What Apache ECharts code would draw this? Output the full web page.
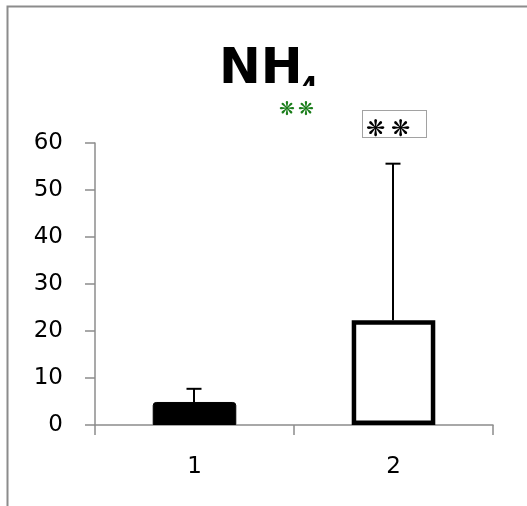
<!DOCTYPE html>
<html>
<head>
<meta charset="utf-8">
<script src="https://cdn.jsdelivr.net/npm/echarts@6/dist/echarts.min.js"></script>
<style>
html,body{margin:0;padding:0;background:#fff;}
#main{width:527px;height:506px;}
</style>
</head>
<body>
<div id="main"></div>
<script>
var categories = ['1', '2'];
var means = [4.9, 22.3];
var upperErrors = [7.7, 55.6];
var yTicks = [0, 10, 20, 30, 40, 50, 60];

var chart = echarts.init(document.getElementById('main'), null, {renderer: 'canvas'});
var labelFont = '"DejaVu Sans", sans-serif';
var starFont = '"DejaVu Sans", sans-serif';

var option = {
  animation: false,
  backgroundColor: '#fff',
  grid: {left: 95, right: 34, top: 143, bottom: 81},
  xAxis: {
    type: 'category',
    data: categories,
    axisLine: {lineStyle: {color: '#8c8c8c', width: 1.5}},
    axisTick: {show: true, length: 10, lineStyle: {color: '#8c8c8c', width: 1.5}},
    axisLabel: {color: '#000', fontSize: 23, fontFamily: labelFont, margin: 31}
  },
  yAxis: {
    type: 'value',
    min: yTicks[0],
    max: yTicks[yTicks.length - 1],
    interval: 10,
    axisLine: {show: true, lineStyle: {color: '#8c8c8c', width: 1.5}},
    axisTick: {show: true, length: 10, lineStyle: {color: '#8c8c8c', width: 1.5}},
    splitLine: {show: false},
    axisLabel: {color: '#000', fontSize: 23, fontFamily: labelFont, margin: 32}
  },
  series: [
    {
      type: 'bar',
      barWidth: '42%',
      data: [
        {value: means[0], itemStyle: {color: '#000', borderColor: '#000', borderWidth: 1, borderRadius: [3, 3, 0, 0]}},
        {value: means[1], itemStyle: {color: '#fff', borderColor: '#000', borderWidth: 4.5}}
      ],
      z: 2
    },
    {
      type: 'custom',
      z: 3,
      data: categories.map(function (c, i) { return [i, means[i], upperErrors[i]]; }),
      renderItem: function (params, api) {
        var p0 = api.coord([api.value(0), api.value(1)]);
        var p1 = api.coord([api.value(0), api.value(2)]);
        var x = p0[0] - 0.5;
        var hw = 7.5;
        return {
          type: 'group',
          children: [
            {type: 'line', shape: {x1: x, y1: p0[1], x2: x, y2: p1[1]}, style: {stroke: '#000', lineWidth: 2}},
            {type: 'line', shape: {x1: x - hw, y1: p1[1], x2: x + hw, y2: p1[1]}, style: {stroke: '#000', lineWidth: 2}}
          ]
        };
      }
    }
  ],
  graphic: [
    {type: 'rect', shape: {x: 7.5, y: 6.5, width: 560, height: 560}, style: {fill: 'none', stroke: '#8c8c8c', lineWidth: 2}, z: 100},
    {type: 'text', left: 219, top: 45, style: {text: 'NH', font: 'bold 50px "DejaVu Sans", sans-serif', fill: '#000'}, z: 10},
    {type: 'text', left: 300, top: 76, style: {text: '4', font: 'bold 26px "DejaVu Sans", sans-serif', fill: '#000'}, z: 10},
    {type: 'rect', shape: {x: 297, y: 86, width: 24, height: 14}, style: {fill: '#fff'}, z: 11},
    {type: 'text', left: 279, top: 101, style: {text: '❋', font: 'bold 19px ' + starFont, fill: '#1a7d1a'}, z: 12},
    {type: 'text', left: 298, top: 101, style: {text: '❋', font: 'bold 19px ' + starFont, fill: '#1a7d1a'}, z: 12},
    {type: 'rect', shape: {x: 362.5, y: 110.5, width: 64, height: 27}, style: {fill: '#fff', stroke: '#444', lineWidth: 1, lineDash: [1, 1]}, z: 12},
    {type: 'text', left: 366, top: 119, style: {text: '❋', font: 'bold 23px ' + starFont, fill: '#000'}, z: 13},
    {type: 'text', left: 391, top: 119, style: {text: '❋', font: 'bold 23px ' + starFont, fill: '#000'}, z: 13}
  ]
};
chart.setOption(option);
</script>
</body>
</html>
